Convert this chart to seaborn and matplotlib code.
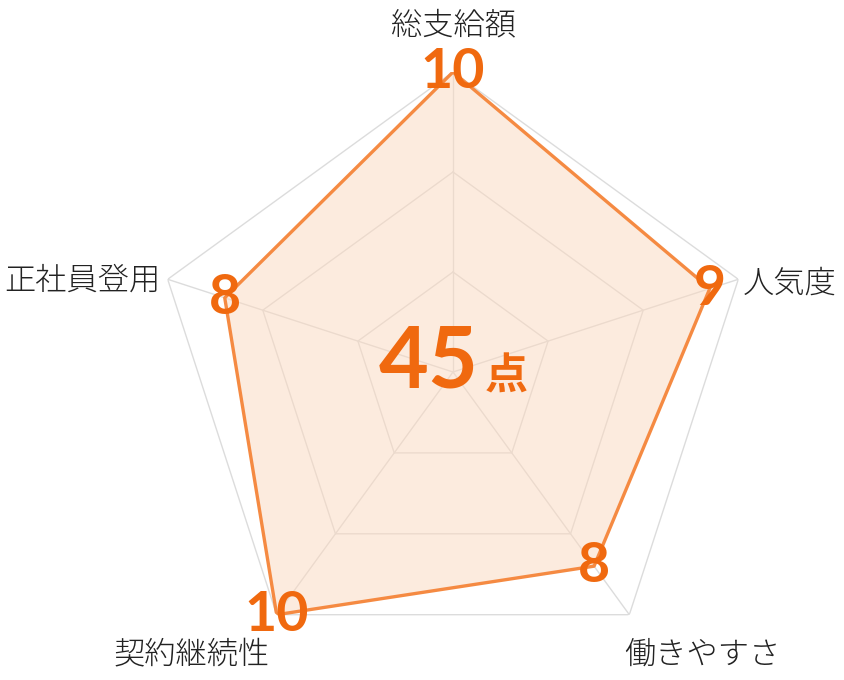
import numpy as np
import matplotlib
matplotlib.use("Agg")
import matplotlib.pyplot as plt
import seaborn as sns
import pandas as pd

categories = ["総支給額", "人気度", "働きやすさ", "契約継続性", "正社員登用"]
values = [10, 9, 8, 10, 8]
total_label = "45"
unit_label = "点"
grid_levels = [10 / 3, 20 / 3, 10]
r_max = 10

sns.set_theme(style="white")
plt.rcParams['font.family'] = ['Noto Sans CJK JP', 'DejaVu Sans']

W, H = 844, 680
fig = plt.figure(figsize=(W / 100, H / 100), dpi=100)
cx, cy, R = 453 / W, 1 - 372 / H, 300
ax = fig.add_axes([cx - R / W, cy - R / H, 2 * R / W, 2 * R / H], projection='polar')
ax.set_theta_offset(np.pi / 2)
ax.set_theta_direction(-1)
ax.set_ylim(0, r_max)
ax.set_axis_off()

n = len(categories)
theta = np.arange(n) * 2 * np.pi / n
theta_c = np.append(theta, 2 * np.pi)

grid_col = "#dcdcdc"
for lv in grid_levels:
    ax.plot(theta_c, [lv] * (n + 1), color=grid_col, lw=1.0, zorder=1)
for t in theta:
    ax.plot([t, t], [0, r_max], color=grid_col, lw=1.0, zorder=1)

vals_c = np.append(values, values[0])
df = pd.DataFrame({"theta": theta_c, "r": vals_c})
ax.fill(df["theta"], df["r"], color="#fbd9bf", alpha=0.5, lw=0, zorder=2)
sns.lineplot(data=df, x="theta", y="r", sort=False, estimator=None, ax=ax,
             color="#f58a42", lw=2.4, zorder=3, legend=False)
ax.set_axis_off()

px = 72 / 100  # pixels -> points
num_col = "#f0690f"
for t, v in zip(theta, values):
    ax.annotate(str(v), (t, v), xytext=(0, 0), textcoords='offset points',
                ha='center', va='center', fontsize=40, color=num_col,
                family=['Lato', 'DejaVu Sans'], fontweight='bold', zorder=5)

offsets = [((0, 47), 'center'), ((4, -4), 'left'), ((-5, -40), 'left'),
           ((-7, -40), 'right'), ((-7, -1), 'right')]
for t, lab, (off, ha) in zip(theta, categories, offsets):
    ax.annotate(lab, (t, r_max), xytext=(off[0] * px, off[1] * px),
                textcoords='offset points', ha=ha, va='center',
                fontsize=22.5, color="#222222", fontweight='light', zorder=5)

ax.annotate(total_label, (0, 0), xytext=(26 * px, -16 * px), textcoords='offset points',
            ha='right', va='baseline', fontsize=62, color=num_col,
            family=['Lato', 'DejaVu Sans'], fontweight='bold', zorder=6)
ax.annotate(unit_label, (0, 0), xytext=(32 * px, -18 * px), textcoords='offset points',
            ha='left', va='baseline', fontsize=31, color=num_col,
            fontweight='bold', zorder=6)

fig.savefig("out.png", dpi=100)
